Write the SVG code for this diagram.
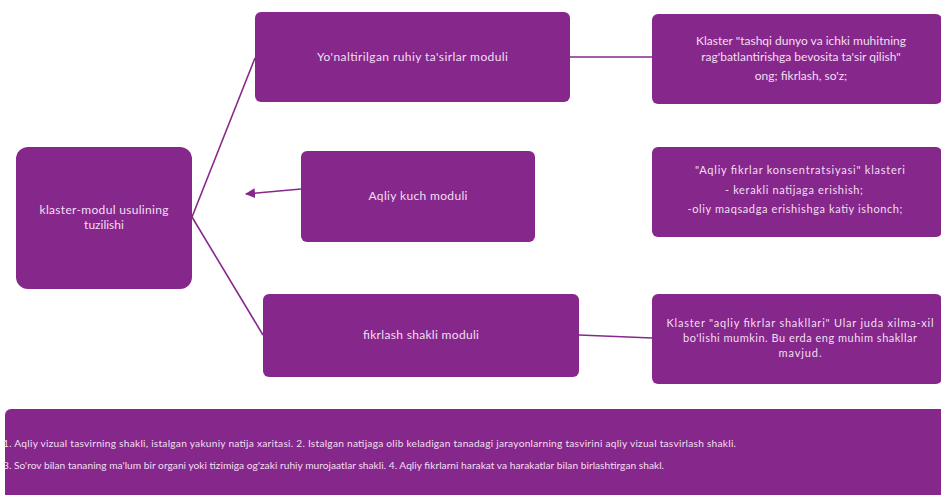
<svg xmlns="http://www.w3.org/2000/svg" width="941" height="495" viewBox="0 0 941 495">
<style>
.box{fill:#86288b;}
.t{font-family:Lato,"Liberation Sans",sans-serif;fill:#f2dff1;text-anchor:middle;}
.m{font-size:12px;}
.s{font-size:11px;}
.b{font-size:10.2px;text-anchor:start;}
.c{stroke:#86288b;stroke-width:1.6;fill:none;}
</style>
<defs>
<marker id="ah" viewBox="0 0 10 10" refX="9" refY="5" markerWidth="10" markerHeight="10" markerUnits="userSpaceOnUse" orient="auto">
<path d="M0,0 L10,5 L0,10 z" fill="#86288b"/>
</marker>
</defs>
<rect width="941" height="495" fill="#ffffff"/>
<g id="connectors">
<line class="c" x1="192" y1="217" x2="255" y2="58"/>
<line class="c" x1="192" y1="217" x2="263" y2="335"/>
<line class="c" x1="570" y1="57" x2="652" y2="57"/>
<line class="c" x1="579" y1="335" x2="652" y2="338"/>
<line class="c" x1="301" y1="189" x2="246" y2="194" marker-end="url(#ah)"/>
</g>
<g id="root">
<rect class="box" x="16" y="147" width="176" height="142" rx="12"/>
<text class="t m" x="104" y="214" textLength="129">klaster-modul usulining</text>
<text class="t m" x="104" y="229">tuzilishi</text>
</g>
<g id="mod1">
<rect class="box" x="255" y="12" width="315" height="90" rx="6"/>
<text class="t m" x="412.5" y="61" textLength="191">Yo'naltirilgan ruhiy ta'sirlar moduli</text>
</g>
<g id="mod2">
<rect class="box" x="301" y="151" width="234" height="91" rx="6"/>
<text class="t m" x="418" y="200" textLength="99">Aqliy kuch moduli</text>
</g>
<g id="mod3">
<rect class="box" x="263" y="294" width="316" height="83" rx="6"/>
<text class="t m" x="421" y="339" textLength="116">fikrlash shakli moduli</text>
</g>
<g id="cl1">
<rect class="box" x="652" y="14" width="290" height="90" rx="6"/>
<text class="t m" x="801" y="45">Klaster "tashqi dunyo va ichki muhitning</text>
<text class="t m" x="801" y="61">rag'batlantirishga bevosita ta'sir qilish"</text>
<text class="t m" x="801" y="80">ong; fikrlash, so'z;</text>
</g>
<g id="cl2">
<rect class="box" x="652" y="147" width="290" height="90" rx="6"/>
<text class="t s" x="800" y="174" textLength="210">"Aqliy fikrlar konsentratsiyasi" klasteri</text>
<text class="t s" x="794" y="194" textLength="138">- kerakli natijaga erishish;</text>
<text class="t s" x="795" y="213" textLength="215">-oliy maqsadga erishishga katiy ishonch;</text>
</g>
<g id="cl3">
<rect class="box" x="652" y="294" width="290" height="90" rx="6"/>
<text class="t s" x="800" y="327" textLength="267">Klaster "aqliy fikrlar shakllari" Ular juda xilma-xil</text>
<text class="t s" x="800" y="342" textLength="234">bo'lishi mumkin. Bu erda eng muhim shakllar</text>
<text class="t s" x="800" y="357" textLength="43">mavjud.</text>
</g>
<g id="notes">
<rect class="box" x="5" y="409" width="950" height="100" rx="6"/>
<text class="t b" x="3" y="447" textLength="733">1. Aqliy vizual tasvirning shakli, istalgan yakuniy natija xaritasi. 2. Istalgan natijaga olib keladigan tanadagi jarayonlarning tasvirini aqliy vizual tasvirlash shakli.</text>
<text class="t b" x="3" y="469" textLength="661">3. So'rov bilan tananing ma'lum bir organi yoki tizimiga og'zaki ruhiy murojaatlar shakli. 4. Aqliy fikrlarni harakat va harakatlar bilan birlashtirgan shakl.</text>
</g>
</svg>
